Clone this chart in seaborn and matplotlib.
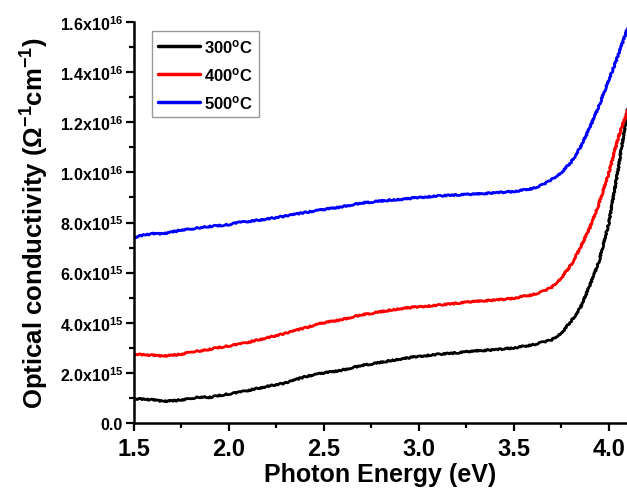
import matplotlib
matplotlib.use("Agg")
import matplotlib.pyplot as plt
from matplotlib.ticker import MultipleLocator, FuncFormatter
import numpy as np
import pandas as pd
import seaborn as sns

# Photon energy grid (eV)
energy = [1.50, 1.55, 1.60, 1.65, 1.70, 1.75, 1.80, 1.85, 1.90, 1.95,
          2.00, 2.05, 2.10, 2.20, 2.30, 2.40, 2.50, 2.60, 2.70, 2.80,
          2.90, 3.00, 3.10, 3.20, 3.30, 3.40, 3.50, 3.55, 3.60, 3.65,
          3.70, 3.75, 3.80, 3.85, 3.90, 3.95, 4.00, 4.05, 4.10]

# Optical conductivity in units of 1e15 (Ohm^-1 cm^-1)
sigma_300 = [0.97, 0.95, 0.92, 0.86, 0.88, 0.92, 0.98, 1.04, 1.02, 1.10,
             1.16, 1.22, 1.30, 1.46, 1.60, 1.85, 2.00, 2.12, 2.30, 2.42,
             2.55, 2.66, 2.74, 2.80, 2.88, 2.92, 3.00, 3.06, 3.12, 3.22,
             3.32, 3.60, 4.05, 4.60, 5.50, 6.50, 8.00, 10.20, 12.60]
sigma_400 = [2.75, 2.72, 2.70, 2.66, 2.70, 2.74, 2.84, 2.88, 2.94, 3.02,
             3.08, 3.14, 3.22, 3.40, 3.58, 3.80, 4.00, 4.14, 4.32, 4.44,
             4.56, 4.64, 4.70, 4.78, 4.86, 4.90, 4.98, 5.06, 5.12, 5.24,
             5.42, 5.80, 6.30, 7.00, 7.80, 8.80, 10.00, 11.40, 12.50]
sigma_500 = [7.40, 7.50, 7.55, 7.54, 7.62, 7.70, 7.74, 7.80, 7.84, 7.88,
             7.92, 8.00, 8.04, 8.14, 8.26, 8.40, 8.52, 8.64, 8.78, 8.86,
             8.92, 9.00, 9.06, 9.10, 9.14, 9.18, 9.24, 9.30, 9.36, 9.50,
             9.72, 10.00, 10.40, 11.00, 11.80, 12.70, 13.70, 14.70, 15.80]

labels = ["300$^{o}$C", "400$^{o}$C", "500$^{o}$C"]
colors = ["#000000", "#ff0000", "#0000ff"]

frames = []
for lab, vals in zip(labels, [sigma_300, sigma_400, sigma_500]):
    frames.append(pd.DataFrame({"E": energy,
                                "sigma": np.array(vals) * 1e15,
                                "T": lab}))
df = pd.concat(frames, ignore_index=True)

sns.set_style("ticks")
plt.rcParams["font.family"] = ["Liberation Sans", "DejaVu Sans"]
plt.rcParams["font.weight"] = "bold"
plt.rcParams["text.color"] = "black"
plt.rcParams["axes.labelcolor"] = "black"
plt.rcParams["xtick.color"] = "black"
plt.rcParams["ytick.color"] = "black"
plt.rcParams["mathtext.fontset"] = "custom"
plt.rcParams["mathtext.rm"] = "Liberation Sans:bold"
plt.rcParams["mathtext.bf"] = "Liberation Sans:bold"
plt.rcParams["mathtext.it"] = "Liberation Sans:bold"
plt.rcParams["mathtext.sf"] = "Liberation Sans"
plt.rcParams["mathtext.default"] = "rm"

fig = plt.figure(figsize=(6.27, 4.89), dpi=100)
ax = fig.add_axes([134 / 627, 65 / 489, 493 / 627, 401 / 489])

sns.lineplot(data=df, x="E", y="sigma", hue="T", palette=colors,
             linewidth=2.0, ax=ax, legend=False)
for line in ax.get_lines():
    line.set_sketch_params(scale=0.7, length=3, randomness=4)

ax.set_xlim(1.5, 4.095)
ax.set_ylim(0, 1.6e16)

ax.xaxis.set_major_locator(MultipleLocator(0.5))
ax.xaxis.set_minor_locator(MultipleLocator(0.25))
ax.yaxis.set_major_locator(MultipleLocator(2e15))
ax.yaxis.set_minor_locator(MultipleLocator(1e15))


def yfmt(v, pos):
    if v < -1:
        return ""
    if abs(v) < 1:
        return "0.0"
    exp = int(np.floor(np.log10(v)))
    mant = v / 10 ** exp
    return f"{mant:.1f}x10$^{{{exp}}}$"


ax.yaxis.set_major_formatter(FuncFormatter(yfmt))
ax.xaxis.set_major_formatter(FuncFormatter(lambda v, p: f"{v:.1f}"))

ax.tick_params(axis="both", which="major", direction="out", length=6,
               width=1.6, color="black")
ax.tick_params(axis="both", which="minor", direction="out", length=3.5,
               width=1.6, color="black")
ax.tick_params(axis="x", which="major", labelsize=17, pad=4)
ax.tick_params(axis="y", which="major", labelsize=11.5, pad=2)

sns.despine(ax=ax, top=True, right=True)
for s in ["left", "bottom"]:
    ax.spines[s].set_linewidth(1.8)
    ax.spines[s].set_color("black")

ax.set_xlabel("Photon Energy (eV)", fontsize=18, fontweight="bold",
              labelpad=1.5)
ax.set_ylabel(r"Optical conductivity ($\mathsf{\Omega}^{-1}$cm$^{-1}$)",
              fontsize=18.5, fontweight="bold", labelpad=6)

handles = [plt.Line2D([], [], color=c, linewidth=2.5) for c in colors]
leg = ax.legend(handles, labels, loc="upper left",
                bbox_to_anchor=((152 - 134) / 493, (424 - 32) / 401),
                frameon=True, fancybox=False, borderaxespad=0,
                prop={"size": 12, "weight": "bold"},
                handlelength=2.5, handletextpad=0.3, labelspacing=0.6,
                borderpad=0.35)
leg.get_frame().set_edgecolor("#808080")
leg.get_frame().set_linewidth(1.0)

fig.savefig("out.png", dpi=100)
